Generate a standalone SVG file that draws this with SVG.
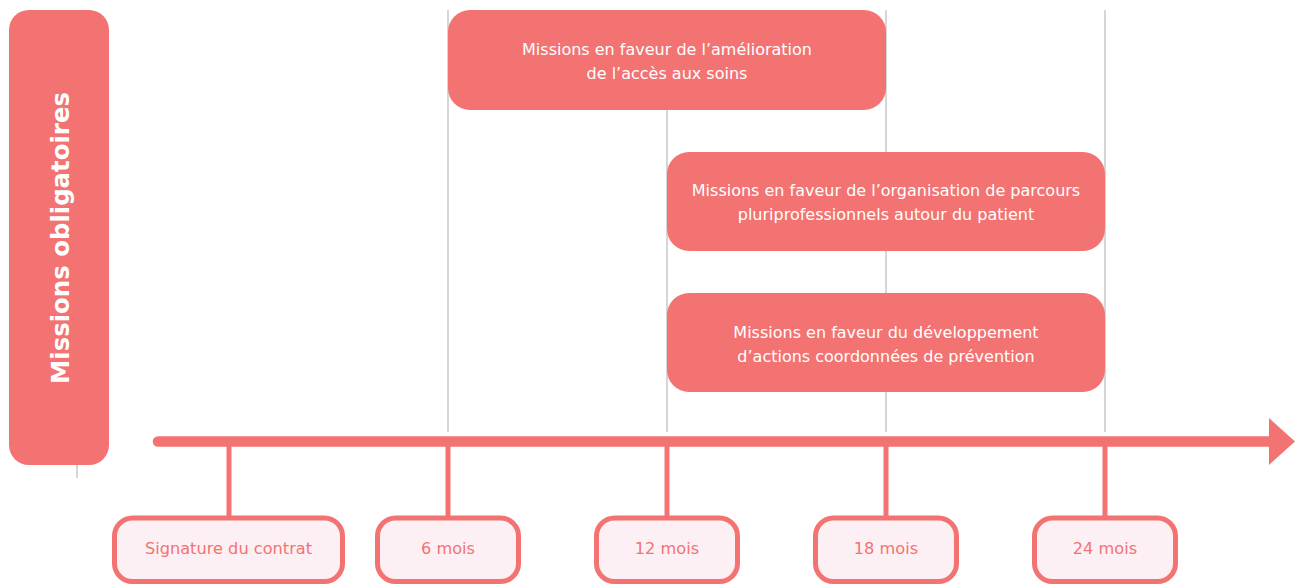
<svg xmlns="http://www.w3.org/2000/svg" width="1296" height="587" viewBox="0 0 1296 587">
<style>
.grid{stroke:#c8c8c8;stroke-width:1.5;fill:none}
.bar{fill:#f27372}
.wt{fill:#ffffff;font-family:"DejaVu Sans",sans-serif;font-size:16px;text-anchor:middle}
.ms{fill:#fdf0f5;stroke:#f27372;stroke-width:5}
.mt{fill:#f27372;font-family:"DejaVu Sans",sans-serif;font-size:16.2px;text-anchor:middle}
.tick{stroke:#f27372;stroke-width:5}
</style>
<rect width="1296" height="587" fill="#ffffff"/>
<g id="grid">
<line class="grid" x1="77" y1="465" x2="77" y2="478"/>
<line class="grid" x1="448" y1="10" x2="448" y2="432"/>
<line class="grid" x1="667" y1="10" x2="667" y2="432"/>
<line class="grid" x1="886" y1="10" x2="886" y2="432"/>
<line class="grid" x1="1105" y1="10" x2="1105" y2="432"/>
</g>
<g id="label-obligatoires">
<rect class="bar" x="9" y="10" width="100" height="455" rx="20"/>
<text transform="translate(69,238) rotate(-90)" fill="#ffffff" font-family="'DejaVu Sans',sans-serif" font-weight="bold" font-size="24.4" text-anchor="middle">Missions obligatoires</text>
</g>
<g id="mission-acces">
<rect class="bar" x="448" y="10" width="438" height="100" rx="22"/>
<text class="wt" x="667" y="54.5">Missions en faveur de l’amélioration</text>
<text class="wt" x="667" y="78.5">de l’accès aux soins</text>
</g>
<g id="mission-parcours">
<rect class="bar" x="667" y="152" width="438" height="99" rx="22"/>
<text class="wt" x="886" y="195.5">Missions en faveur de l’organisation de parcours</text>
<text class="wt" x="886" y="219.5">pluriprofessionnels autour du patient</text>
</g>
<g id="mission-prevention">
<rect class="bar" x="667" y="293" width="438" height="99" rx="22"/>
<text class="wt" x="886" y="337.5">Missions en faveur du développement</text>
<text class="wt" x="886" y="361.5">d’actions coordonnées de prévention</text>
</g>
<g id="connectors">
<line x1="158" y1="441.5" x2="1272" y2="441.5" stroke="#f27372" stroke-width="10.5" stroke-linecap="round"/>
<polygon points="1269,418 1295,441.5 1269,465" fill="#f27372"/>
<line class="tick" x1="229" y1="441" x2="229" y2="518"/>
<line class="tick" x1="448" y1="441" x2="448" y2="518"/>
<line class="tick" x1="667" y1="441" x2="667" y2="518"/>
<line class="tick" x1="886" y1="441" x2="886" y2="518"/>
<line class="tick" x1="1105" y1="441" x2="1105" y2="518"/>
</g>
<g id="m0">
<rect class="ms" x="114.5" y="518" width="228" height="63.5" rx="18"/>
<text class="mt" x="228.5" y="554">Signature du contrat</text>
</g>
<g id="m6">
<rect class="ms" x="377.5" y="518" width="141" height="63.5" rx="18"/>
<text class="mt" x="448" y="554">6 mois</text>
</g>
<g id="m12">
<rect class="ms" x="596.5" y="518" width="141" height="63.5" rx="18"/>
<text class="mt" x="667" y="554">12 mois</text>
</g>
<g id="m18">
<rect class="ms" x="815.5" y="518" width="141" height="63.5" rx="18"/>
<text class="mt" x="886" y="554">18 mois</text>
</g>
<g id="m24">
<rect class="ms" x="1034.5" y="518" width="141" height="63.5" rx="18"/>
<text class="mt" x="1105" y="554">24 mois</text>
</g>
</svg>
